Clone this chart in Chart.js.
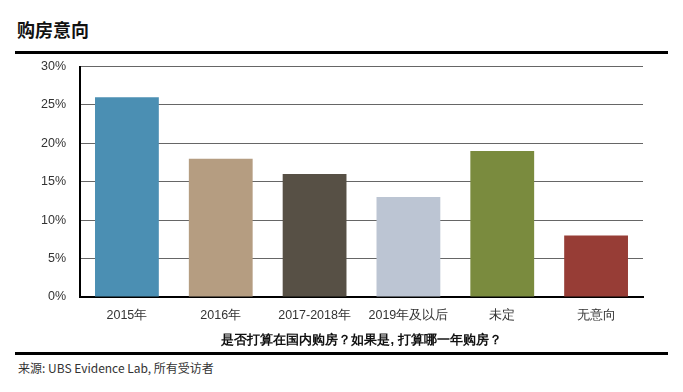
<!DOCTYPE html>
<html>
<head>
<meta charset="utf-8">
<script src="https://cdn.jsdelivr.net/npm/chart.js@4"></script>
<style>
  body { margin: 0; width: 683px; height: 392px; background: #fff; position: relative; overflow: hidden;
         font-family: "Noto Sans CJK SC", "Noto Sans", sans-serif; }
  #title { position: absolute; left: 17px; top: 16px; font-size: 18px; font-weight: bold; color: #111; }
  .rule { position: absolute; left: 15px; width: 653px; height: 3px; background: #000; }
  #chartBox { position: absolute; left: 0; top: 45px; width: 683px; height: 306px; }
  #source { position: absolute; left: 18px; top: 359px; font-size: 12px; color: #333; }
</style>
</head>
<body>
<div id="title">购房意向</div>
<div class="rule" style="top:51px"></div>
<div id="chartBox"><canvas id="bar-chart"></canvas></div>
<div class="rule" style="top:352px"></div>
<div id="source">来源: UBS Evidence Lab, 所有受访者</div>
<script>
// categories and values (percent of respondents)
const categories = ["2015年", "2016年", "2017-2018年", "2019年及以后", "未定", "无意向"];
const shares = [26, 18, 16, 13, 19, 8];
const barColors = ["#4b8fb3", "#b59d81", "#575045", "#bcc5d3", "#7a8b3e", "#973d36"];
const yTicks = [0, 5, 10, 15, 20, 25, 30];
const axisTitle = "是否打算在国内购房？如果是, 打算哪一年购房？";

const canvas = document.querySelector('#bar-chart');

new Chart(canvas.getContext('2d'), {
    type: 'bar',
    data: {
        labels: categories,
        datasets: [{
            data: shares,
            backgroundColor: barColors,
            barPercentage: 0.68,
            categoryPercentage: 1
        }]
    },
    options: {
        responsive: true,
        maintainAspectRatio: false,
        animation: false,
        layout: { padding: { top: 5, right: 40, left: 0, bottom: 0 } },
        plugins: { legend: { display: false }, tooltip: { enabled: false } },
        scales: {
            x: {
                grid: { display: false, drawTicks: false },
                border: { color: '#000', width: 2 },
                ticks: { color: '#333', font: { size: 12.5 }, padding: 11 },
                title: {
                    display: true,
                    text: axisTitle,
                    color: '#111',
                    font: { size: 13, weight: 'bold', lineHeight: 1 },
                    padding: { top: 0, bottom: 4 }
                }
            },
            y: {
                min: 0,
                max: 30,
                afterFit: s => { s.width = 80; },
                afterBuildTicks: s => { s.ticks = yTicks.map(v => ({ value: v })); },
                grid: { color: '#666', lineWidth: 1, drawTicks: false },
                border: { color: '#000', width: 2 },
                ticks: {
                    color: '#333',
                    font: { size: 12.5 },
                    padding: 14,
                    callback: v => v + '%'
                }
            }
        }
    }
});
</script>
</body>
</html>
